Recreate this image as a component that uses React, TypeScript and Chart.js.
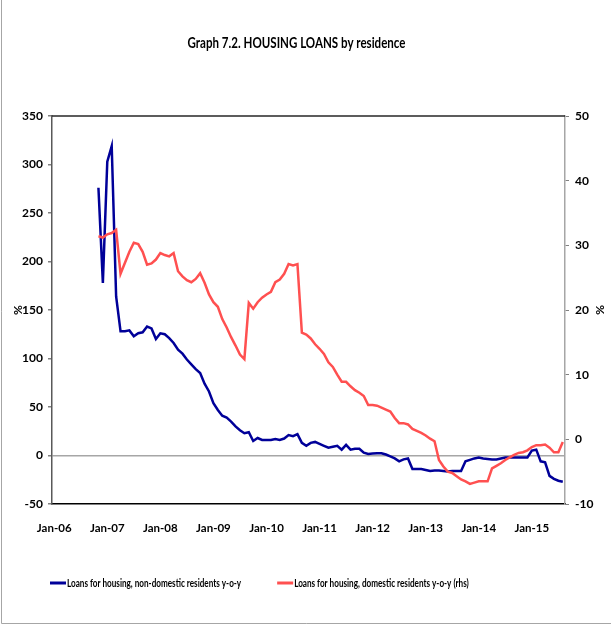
import React, { useEffect, useRef } from "react";
import { Chart, registerables } from "chart.js";

Chart.register(...registerables);

const TITLE = "Graph 7.2. HOUSING LOANS by residence";
const MONTHS = ["Jan", "Feb", "Mar", "Apr", "May", "Jun", "Jul", "Aug", "Sep", "Oct", "Nov", "Dec"];
const YEARS = ["06", "07", "08", "09", "10", "11", "12", "13", "14", "15"];
const MONTHS_IN_LAST_YEAR = 8; // axis runs to Aug-15
const SERIES_START = "Nov-06";

const LEFT_AXIS = [-50, 350, 50]; // min, max, step
const RIGHT_AXIS = [-10, 50, 10];

const NON_DOMESTIC_LABEL = "Loans for housing, non-domestic residents y-o-y";
const DOMESTIC_LABEL = "Loans for housing, domestic residents y-o-y (rhs)";

// Nov-06 .. Aug-15, left axis (%)
const NON_DOMESTIC = [
  276, 178, 303, 319, 164, 128, 128, 129, 123, 126,
  127, 133, 131, 120, 126, 125, 121, 116, 109, 105,
  99, 94, 89, 85, 74, 66, 54, 47, 41, 39,
  35, 30, 26, 23, 24, 15, 18, 16, 16, 16,
  17, 16, 17.5, 21, 20, 22, 13, 10, 13, 14,
  12, 10, 8, 9, 10, 6, 11, 6, 7, 7,
  3, 1.5, 2, 2.3, 2.3, 1, -1, -3, -6, -4,
  -3, -14, -14, -14, -15, -16, -15.5, -15.5, -16, -16.5,
  -16, -16, -16, -6, -4.5, -3, -2, -3, -3.5, -4,
  -4, -3, -2, -2, -2, -2, -2, -2, 5, 6,
  -6, -7, -21, -24, -26, -27,
];

// Nov-06 .. Aug-15, right axis (%)
const DOMESTIC = [
  31.4, 31.2, 31.7, 31.9, 32.4, 25.6, 27.3, 29, 30.4, 30.2,
  29, 27, 27.2, 27.8, 28.8, 28.5, 28.3, 28.8, 26, 25.2,
  24.6, 24.3, 24.8, 25.7, 24.2, 22.4, 21.2, 20.5, 18.6, 17.3,
  15.8, 14.5, 13.1, 12.4, 21.1, 20.2, 21.2, 21.9, 22.4, 22.8,
  24.3, 24.7, 25.6, 27.1, 26.9, 27.1, 16.5, 16.2, 15.6, 14.7,
  14, 13.2, 11.9, 11.2, 10, 8.9, 8.9, 8.2, 7.6, 7.2,
  6.7, 5.3, 5.3, 5.2, 4.9, 4.6, 4.3, 3.3, 2.5, 2.5,
  2.3, 1.6, 1.3, 1.0, 0.6, 0.1, -0.3, -3.2, -4.2, -5,
  -5.2, -5.7, -6.2, -6.5, -6.9, -6.7, -6.5, -6.5, -6.5, -4.5,
  -4.1, -3.7, -3.2, -2.8, -2.4, -2.1, -2.0, -1.7, -1.2, -0.9,
  -0.9, -0.8, -1.3, -2, -2, -0.4,
];

const CATEGORIES = YEARS.flatMap((y, yi) =>
  MONTHS.slice(0, yi === YEARS.length - 1 ? MONTHS_IN_LAST_YEAR : 12).map((m) => `${m}-${y}`)
);

const FONT = "Lato, 'Open Sans', sans-serif";
const BLUE = "#000099";
const RED = "#ff5050";

function align(values: number[]) {
  const start = CATEGORIES.indexOf(SERIES_START);
  return CATEGORIES.map((_, i) => (i < start ? null : values[i - start] ?? null));
}

// horizontally squeezed text, to mimic the condensed face of the original
function narrowText(ctx: CanvasRenderingContext2D, text: string, x: number, y: number, sx: number) {
  ctx.save();
  ctx.translate(x, y);
  ctx.scale(sx, 1);
  ctx.fillText(text, 0, 0);
  ctx.restore();
  return ctx.measureText(text).width * sx;
}

const framePlugin = {
  id: "frame",
  afterDraw(chart: any) {
    const { ctx, chartArea: a, width, height } = chart;
    ctx.save();
    ctx.strokeStyle = "#262626";
    ctx.lineWidth = 1.5;
    ctx.beginPath();
    ctx.moveTo(a.left, a.top);
    ctx.lineTo(a.right, a.top);
    ctx.stroke();

    ctx.strokeStyle = "#a6a6a6";
    ctx.lineWidth = 1;
    ctx.beginPath();
    ctx.moveTo(1.5, 0);
    ctx.lineTo(1.5, height - 1.5);
    ctx.lineTo(width, height - 1.5);
    ctx.stroke();

    // title
    ctx.fillStyle = "#000";
    ctx.font = `bold 15px ${FONT}`;
    ctx.textBaseline = "middle";
    ctx.textAlign = "left";
    const tsx = 0.77;
    const tw = ctx.measureText(TITLE).width * tsx;
    narrowText(ctx, TITLE, 296.5 - tw / 2, 43, tsx);

    // legend
    ctx.font = `bold 11px ${FONT}`;
    let x = 50;
    const y = 583;
    chart.data.datasets.forEach((ds: any) => {
      ctx.strokeStyle = ds.borderColor;
      ctx.lineWidth = 3;
      ctx.beginPath();
      ctx.moveTo(x, y);
      ctx.lineTo(x + 16, y);
      ctx.stroke();
      ctx.fillStyle = "#000";
      const w = narrowText(ctx, ds.label, x + 17, y, 0.74);
      x += 17 + w + 36;
    });
    ctx.restore();
  },
};

export default function App() {
  const ref = useRef<HTMLCanvasElement | null>(null);

  useEffect(() => {
    document.body.style.margin = "0";
    if (!ref.current) return;
    const tickFont = { family: FONT, size: 12, weight: "bold" as const };
    const chart = new Chart(ref.current, {
      type: "line",
      data: {
        labels: CATEGORIES,
        datasets: [
          {
            label: NON_DOMESTIC_LABEL,
            data: align(NON_DOMESTIC),
            borderColor: BLUE,
            backgroundColor: BLUE,
            borderWidth: 2.5,
            pointRadius: 0,
            tension: 0,
            yAxisID: "y",
            order: 1,
          },
          {
            label: DOMESTIC_LABEL,
            data: align(DOMESTIC),
            borderColor: RED,
            backgroundColor: RED,
            borderWidth: 2.5,
            pointRadius: 0,
            tension: 0,
            yAxisID: "y1",
            order: 0,
          },
        ],
      },
      options: {
        responsive: false,
        animation: false,
        layout: { padding: { left: 0, right: 0, top: 116, bottom: 84 } },
        plugins: {
          legend: { display: false },
          tooltip: { enabled: false },
          title: { display: false },
        },
        scales: {
          x: {
            type: "category",
            offset: true,
            grid: { display: false, drawTicks: false },
            border: { color: "#000", width: 1.5 },
            ticks: {
              autoSkip: false,
              maxRotation: 0,
              minRotation: 0,
              padding: 17,
              color: "#000",
              font: { family: FONT, size: 11.5, weight: "bold" },
              callback: (_v: any, i: number) => (i % 12 === 0 ? CATEGORIES[i] : null),
            },
            afterFit: (s: any) => {
              s.height = 37;
            },
          },
          y: {
            position: "left",
            min: LEFT_AXIS[0],
            max: LEFT_AXIS[1],
            ticks: { stepSize: LEFT_AXIS[2], color: "#000", font: tickFont, padding: 5 },
            grid: {
              color: (c: any) => (c.tick && c.tick.value === 0 ? "#a6a6a6" : "transparent"),
              lineWidth: 1.5,
              tickColor: "#808080",
              tickLength: 4,
            },
            border: { color: "#595959", width: 1.5 },
            title: { display: true, text: "%", color: "#000", font: tickFont, padding: { top: 10.5, bottom: 0 } },
            afterFit: (s: any) => {
              s.width = 52;
            },
          },
          y1: {
            position: "right",
            min: RIGHT_AXIS[0],
            max: RIGHT_AXIS[1],
            ticks: { stepSize: RIGHT_AXIS[2], color: "#000", font: tickFont, padding: 6 },
            grid: { drawOnChartArea: false, tickColor: "#808080", tickLength: 4 },
            border: { color: "#a6a6a6", width: 1.5 },
            title: { display: true, text: "%", color: "#000", font: tickFont, padding: { top: 3.8, bottom: 0 } },
            afterFit: (s: any) => {
              s.width = 46;
            },
          },
        },
      },
      plugins: [framePlugin],
    });
    return () => chart.destroy();
  }, []);

  return <canvas ref={ref} width={611} height={625} style={{ display: "block" }} />;
}
